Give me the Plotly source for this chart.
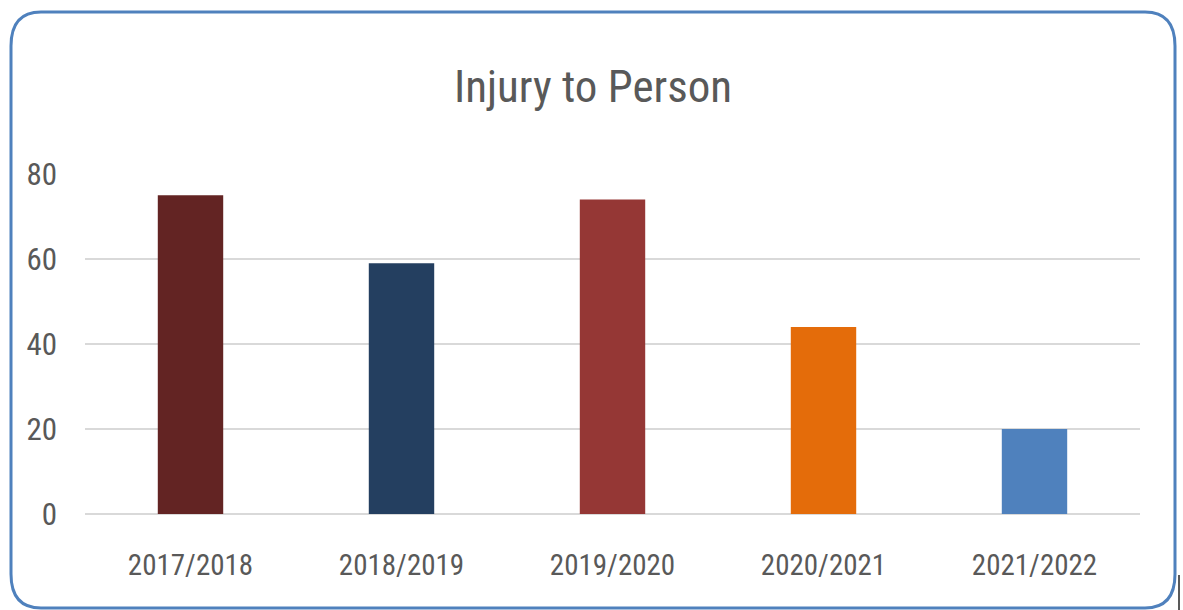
import plotly.graph_objects as go

seasons = ["2017/2018", "2018/2019", "2019/2020", "2020/2021", "2021/2022"]
injuries = [75, 59, 74, 44, 20]
bar_colors = ["#632423", "#243F60", "#953735", "#E46C0A", "#4F81BD"]
y_ticks = [0, 20, 40, 60, 80]

W, H = 1183, 610
L, R, T, B = 85, 43, 174, 96
PW, PH = W - L - R, H - T - B


def px(x):
    return (x - L) / PW


def py(y):
    return (H - B - y) / PH


# rounded frame around the chart, in paper coordinates
x0, x1, y0, y1, rx, ry = 11, 1175, 12, 608, 30, 34
frame = (
    f"M {px(x0)},{py(y0 + ry)} Q {px(x0)},{py(y0)} {px(x0 + rx)},{py(y0)} "
    f"L {px(x1 - rx)},{py(y0)} Q {px(x1)},{py(y0)} {px(x1)},{py(y0 + ry)} "
    f"L {px(x1)},{py(y1 - ry)} Q {px(x1)},{py(y1)} {px(x1 - rx)},{py(y1)} "
    f"L {px(x0 + rx)},{py(y1)} Q {px(x0)},{py(y1)} {px(x0)},{py(y1 - ry)} Z"
)

font_family = "Liberation Sans Narrow, Roboto Condensed, Liberation Sans, sans-serif"

fig = go.Figure(
    go.Bar(
        x=seasons,
        y=injuries,
        marker=dict(color=bar_colors, line=dict(width=0)),
        hoverinfo="x+y",
    )
)

fig.update_layout(
    width=W,
    height=H,
    margin=dict(l=L, r=R, t=T, b=B),
    paper_bgcolor="white",
    plot_bgcolor="white",
    bargap=0.69,
    showlegend=False,
    font=dict(family=font_family, color="#595959"),
    title=dict(
        text="Injury to Person",
        x=593 / W,
        xanchor="center",
        y=1 - 86 / H,
        yanchor="middle",
        font=dict(size=45, color="#595959", family=font_family),
    ),
    xaxis=dict(
        showgrid=False,
        showline=False,
        ticks="",
        tickfont=dict(size=29, color="#595959"),
        ticklabelstandoff=31,
    ),
    yaxis=dict(
        range=[0, 80],
        tickvals=y_ticks,
        showgrid=True,
        gridcolor="#D9D9D9",
        gridwidth=2,
        zeroline=True,
        zerolinecolor="#D9D9D9",
        zerolinewidth=2,
        showline=False,
        ticks="",
        tickfont=dict(size=31, color="#595959"),
        ticklabelstandoff=27,
    ),
    shapes=[
        dict(
            type="path",
            path=frame,
            xref="paper",
            yref="paper",
            line=dict(color="#4F81BD", width=3),
            fillcolor="rgba(0,0,0,0)",
            layer="above",
        ),
        dict(
            type="line",
            xref="paper",
            yref="paper",
            x0=px(1179),
            x1=px(1179),
            y0=py(575),
            y1=py(610),
            line=dict(color="#222222", width=1.5),
        ),
    ],
)

fig.write_html("out.html")
